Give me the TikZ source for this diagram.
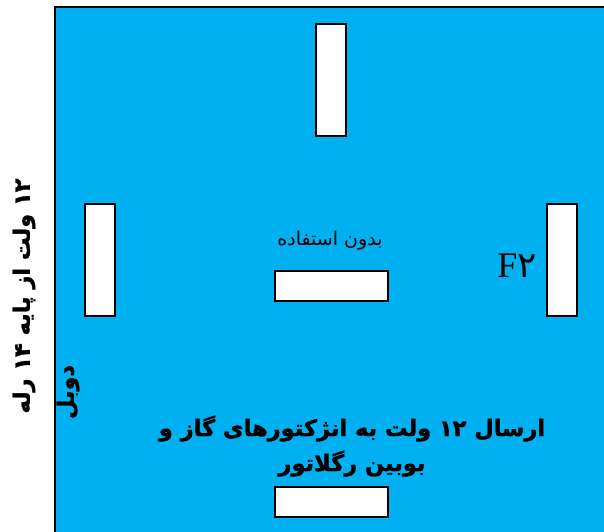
\documentclass[tikz,border=0pt]{standalone}
\usepackage{fontspec}
\setmainfont{Liberation Serif}
\newfontfamily\farsifont[Script=Arabic]{DejaVu Sans}
\newfontfamily\farsibold[Script=Arabic,FakeBold=1.5]{DejaVu Sans Bold}
\TeXXeTstate=1
\definecolor{boardblue}{RGB}{0,176,240}

\begin{document}
\begin{tikzpicture}[
                    x=1pt,
                    y=-1pt,
                    slot/.style={draw=black, line width=2pt, fill=white, inner sep=0pt},
                    vslot/.style={slot, minimum width=30pt, minimum height=112pt},
                    hslot/.style={slot, minimum width=113pt, minimum height=30pt},
                    note/.style={font=\farsibold\fontsize{22.5}{35}\selectfont, align=center, inner sep=0pt}
                ]
                \useasboundingbox (0,0) rectangle (604,531);
                \path[fill=boardblue, draw=black, line width=2pt] (55,7) rectangle (640,560);

                % connector slots
                \node[vslot] (slot-top) at (331,80) {};
                \node[vslot] (slot-left) at (99.5,260) {};
                \node[vslot] (slot-right) at (562,260) {};
                \node[hslot] (slot-mid) at (331,286) {};
                \node[hslot] (slot-bottom) at (331,501.5) {};

                % labels
                \node[inner sep=0pt, font=\farsifont\fontsize{19}{22}\selectfont] (lbl-mid) at (330,241) {\beginR بدون استفاده\endR};
                \node[inner sep=0pt, font=\fontsize{36}{40}\selectfont] (lbl-right) at (517,266) {F{\farsifont ۲}};
                \node[note] (lbl-bottom) at (352,446) {\beginR ارسال ۱۲ ولت به انژکتورهای گاز و\endR\\\beginR بوبین رگلاتور\endR};
                \node[note, rotate=90] (lbl-left) at (24,296) {\beginR ۱۲ ولت از پایه ۱۴ رله\endR};
                \node[note, rotate=90] (lbl-left-2) at (68,392) {\beginR دوبل\endR};
            \end{tikzpicture}
\end{document}
